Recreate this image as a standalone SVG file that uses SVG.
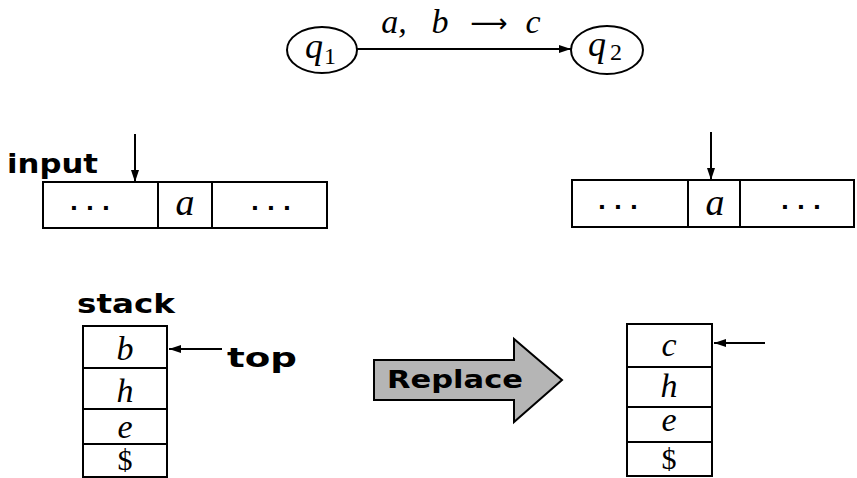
<svg xmlns="http://www.w3.org/2000/svg" width="857" height="478" viewBox="0 0 857 478">
<style>
.box{fill:#fff;stroke:#000;stroke-width:2}
.ln{stroke:#000;stroke-width:2;fill:none}
.arr{stroke:#000;stroke-width:2;fill:none;marker-end:url(#ah)}
.m{font-family:"Liberation Serif",serif;font-style:italic;fill:#000;text-anchor:middle}
.s{font-family:"Liberation Serif",serif;fill:#000;text-anchor:middle}
.c{font-family:"DejaVu Sans",sans-serif;font-weight:bold;fill:#000}
.dots{font-family:"DejaVu Sans",sans-serif;font-weight:bold;font-size:22px;fill:#000;text-anchor:middle}
</style>
<defs>
<marker id="ah" viewBox="0 0 12 8" refX="12" refY="4" markerWidth="12" markerHeight="8" markerUnits="userSpaceOnUse" orient="auto">
<path d="M0,0 L12,4 L0,8 Z" fill="#000"/>
</marker>
</defs>

<g id="q1">
<ellipse cx="322" cy="50" rx="35" ry="23" class="ln"/>
<text x="314" y="58" class="m" font-size="36">q</text>
<text x="330" y="64" class="s" font-size="24">1</text>
</g>
<g id="q2">
<ellipse cx="607" cy="50" rx="36" ry="24" class="ln"/>
<text x="597" y="56" class="m" font-size="36">q</text>
<text x="616" y="60" class="s" font-size="24">2</text>
</g>

<g id="connectors">
<line x1="357" y1="49" x2="571" y2="49" class="arr"/>
<line x1="135" y1="134" x2="135" y2="182" class="arr"/>
<line x1="711" y1="132" x2="711" y2="180" class="arr"/>
<line x1="222" y1="349" x2="169" y2="349" class="arr"/>
<line x1="765" y1="343" x2="714" y2="343" class="arr"/>
</g>

<g id="edge-label">
<text x="394" y="33" class="m" font-size="34">a,</text>
<text x="440" y="33" class="m" font-size="34">b</text>
<text x="489" y="32" font-family="DejaVu Sans, sans-serif" font-size="26" text-anchor="middle" fill="#000">⟶</text>
<text x="533" y="33" class="m" font-size="34">c</text>
</g>

<g id="input-tape">
<text x="7" y="173" class="c" font-size="26" textLength="91" lengthAdjust="spacingAndGlyphs">input</text>
<rect x="43" y="182" width="284" height="46" class="box"/>
<line x1="158" y1="182" x2="158" y2="228" class="ln"/>
<line x1="212" y1="182" x2="212" y2="228" class="ln"/>
<text x="90" y="215" class="dots">· · ·</text>
<text x="185" y="215" class="m" font-size="38">a</text>
<text x="271" y="215" class="dots">· · ·</text>
</g>

<g id="input-tape-after">
<rect x="572" y="180" width="282" height="47" class="box"/>
<line x1="688" y1="180" x2="688" y2="227" class="ln"/>
<line x1="740" y1="180" x2="740" y2="227" class="ln"/>
<text x="618" y="214" class="dots">· · ·</text>
<text x="715" y="215" class="m" font-size="38">a</text>
<text x="801" y="214" class="dots">· · ·</text>
</g>

<g id="stack">
<text x="77" y="313" class="c" font-size="26" textLength="98" lengthAdjust="spacingAndGlyphs">stack</text>
<rect x="83" y="326" width="84" height="151" class="box"/>
<line x1="83" y1="368" x2="167" y2="368" class="ln"/>
<line x1="83" y1="409" x2="167" y2="409" class="ln"/>
<line x1="83" y1="444" x2="167" y2="444" class="ln"/>
<text x="125" y="360" class="m" font-size="34">b</text>
<text x="125" y="402" class="m" font-size="34">h</text>
<text x="125" y="438" class="m" font-size="34">e</text>
<text x="125" y="470" class="s" font-size="30">$</text>
<text x="227" y="367" class="c" font-size="27" textLength="70" lengthAdjust="spacingAndGlyphs">top</text>
</g>

<g id="replace">
<polygon points="374,360 514,360 514,339 562,380 514,422 514,400 374,400" fill="#b5b5b5" stroke="#000" stroke-width="2"/>
<text x="387" y="388" class="c" font-size="25" textLength="136" lengthAdjust="spacingAndGlyphs">Replace</text>
</g>

<g id="stack-after">
<rect x="627" y="324" width="85" height="152" class="box"/>
<line x1="627" y1="367" x2="712" y2="367" class="ln"/>
<line x1="627" y1="407" x2="712" y2="407" class="ln"/>
<line x1="627" y1="442" x2="712" y2="442" class="ln"/>
<text x="669" y="356" class="m" font-size="34">c</text>
<text x="669" y="397" class="m" font-size="34">h</text>
<text x="669" y="431" class="m" font-size="34">e</text>
<text x="669" y="469" class="s" font-size="30">$</text>
</g>
</svg>
